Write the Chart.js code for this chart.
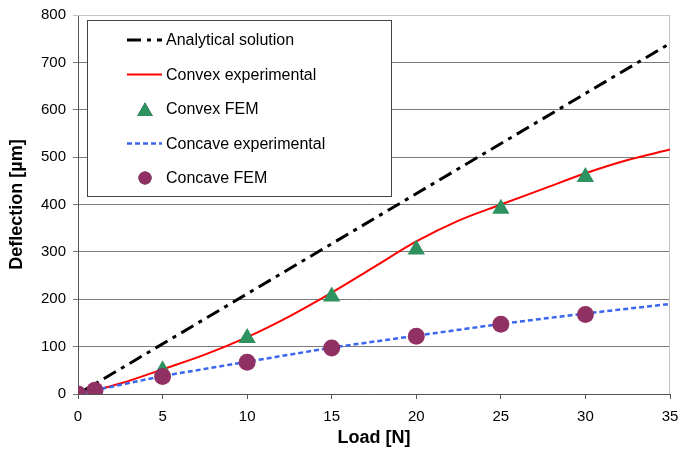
<!DOCTYPE html>
<html>
<head>
<meta charset="utf-8">
<script src="https://cdn.jsdelivr.net/npm/chart.js@4"></script>
<style>
  html, body { margin: 0; padding: 0; background: #fff; }
  #wrap { width: 680px; height: 452px; }
</style>
</head>
<body>
<div id="wrap"><canvas id="chart" width="680" height="452"></canvas></div>
<script>
// values (load in N, deflection in µm)
const analyticalX = [0, 35];
const analyticalY = [0, 740];

const convexExpX = [0, 1, 2.5, 5, 7.5, 10, 12.5, 15, 17.5, 20, 22.5, 25, 27.5, 30, 32.5, 35];
const convexExpY = [0, 8, 22, 52, 83, 120, 164, 214, 268, 322, 366, 400, 433, 466, 494, 516];

const convexFemX = [0, 1, 5, 10, 15, 20, 25, 30];
const convexFemY = [0, 3, 50, 118, 206, 305, 391, 458];

const concaveExpX = [0, 1, 5, 10, 15, 20, 25, 30, 35];
const concaveExpY = [0, 8, 38, 68, 98, 123, 148, 170, 190];

const concaveFemX = [0, 1, 5, 10, 15, 20, 25, 30];
const concaveFemY = [0, 8, 37, 67, 97, 122, 147, 168];

const xTicks = [0, 5, 10, 15, 20, 25, 30, 35];
const yTicks = [0, 100, 200, 300, 400, 500, 600, 700, 800];

const legendLabels = [
  "Analytical solution",
  "Convex experimental",
  "Convex FEM",
  "Concave experimental",
  "Concave FEM",
];

const pts = (xs, ys) => xs.map((x, i) => ({ x, y: ys[i] }));

const FONT = "'Liberation Sans', Arial, sans-serif";

// ── Legend box drawn inside the plot area ───────────────────
const boxLegend = {
  id: "boxLegend",
  afterDraw(chart) {
    const ctx = chart.ctx;
    const left = 87, top = 20, w = 304, h = 176;
    ctx.save();
    ctx.fillStyle = "#fff";
    ctx.fillRect(left, top, w, h);
    ctx.strokeStyle = "#444";
    ctx.lineWidth = 1;
    ctx.strokeRect(left + 0.5, top + 0.5, w, h);

    const rows = [40, 74.5, 109, 143.5, 178];
    chart.data.datasets.forEach((ds, i) => {
      const y = rows[i];
      if (ds.showLine) {
        ctx.beginPath();
        ctx.setLineDash(ds.borderDash || []);
        ctx.strokeStyle = ds.borderColor;
        ctx.lineWidth = ds.borderWidth;
        ctx.moveTo(127, y);
        ctx.lineTo(162, y);
        ctx.stroke();
        ctx.setLineDash([]);
      } else {
        Chart.helpers.drawPoint(ctx, {
          pointStyle: ds.pointStyle,
          radius: ds.legendRadius,
          borderWidth: 0,
          rotation: 0,
        }, 145, y + (ds.pointStyle === "triangle" ? 2.5 : 0));
        ctx.fillStyle = ds.backgroundColor;
        ctx.fill();
      }
      ctx.fillStyle = "#000";
      ctx.font = "16px " + FONT;
      ctx.textBaseline = "middle";
      ctx.textAlign = "left";
      ctx.fillText(legendLabels[i], 166, y + 1);
    });
    ctx.restore();
  },
};

// light frame on top and right of the plot
const frame = {
  id: "frame",
  beforeDatasetsDraw(chart) {
    const { ctx, chartArea: a } = chart;
    ctx.save();
    ctx.strokeStyle = "#c4c4c4";
    ctx.lineWidth = 1;
    ctx.beginPath();
    ctx.moveTo(a.left, a.top + 0.5);
    ctx.lineTo(a.right - 0.5, a.top + 0.5);
    ctx.lineTo(a.right - 0.5, a.bottom);
    ctx.stroke();
    ctx.restore();
  },
};

new Chart(document.getElementById("chart"), {
  type: "scatter",
  data: {
    datasets: [
      {
        label: legendLabels[0],
        data: pts(analyticalX, analyticalY),
        showLine: true,
        borderColor: "#000",
        borderWidth: 3,
        borderDash: [14, 6, 4, 6],
        pointRadius: 0,
        order: 4,
      },
      {
        label: legendLabels[1],
        data: pts(convexExpX, convexExpY),
        showLine: true,
        borderColor: "#ff0000",
        borderWidth: 2,
        cubicInterpolationMode: "monotone",
        pointRadius: 0,
        order: 3,
      },
      {
        label: legendLabels[2],
        data: pts(convexFemX, convexFemY),
        showLine: false,
        pointStyle: "triangle",
        pointRadius: 10,
        legendRadius: 9,
        backgroundColor: "#2e9160",
        borderWidth: 0,
        order: 1,
      },
      {
        label: legendLabels[3],
        data: pts(concaveExpX, concaveExpY),
        showLine: true,
        borderColor: "#3a66f0",
        borderWidth: 2.5,
        borderDash: [5, 3],
        pointRadius: 0,
        order: 2,
      },
      {
        label: legendLabels[4],
        data: pts(concaveFemX, concaveFemY),
        showLine: false,
        pointStyle: "circle",
        pointRadius: 8.5,
        legendRadius: 6.5,
        backgroundColor: "#913163",
        borderWidth: 0,
        order: 0,
      },
    ],
  },
  options: {
    responsive: false,
    animation: false,
    layout: { padding: { top: 15, right: 5, left: 0, bottom: 0 } },
    plugins: {
      legend: { display: false },
      tooltip: { enabled: false },
    },
    scales: {
      x: {
        type: "linear",
        min: 0,
        max: 35,
        afterFit: (s) => {
          s.height = 58;
          s.paddingLeft = 0;
          s.paddingRight = 0;
        },
        afterBuildTicks: (s) => { s.ticks = xTicks.map((v) => ({ value: v })); },
        ticks: {
          color: "#000",
          padding: 9,
          font: { family: FONT, size: 15 },
        },
        grid: {
          drawOnChartArea: false,
          drawTicks: true,
          tickLength: 5,
          color: "#555",
        },
        border: { color: "#555", width: 1 },
        title: {
          display: true,
          text: "Load [N]",
          color: "#000",
          font: { family: FONT, size: 18, weight: "bold" },
          padding: { top: 0, bottom: 3 },
        },
      },
      y: {
        min: 0,
        max: 800,
        afterFit: (s) => {
          s.width = 78;
          s.paddingTop = 0;
          s.paddingBottom = 0;
        },
        afterBuildTicks: (s) => { s.ticks = yTicks.map((v) => ({ value: v })); },
        ticks: {
          color: "#000",
          padding: 7,
          font: { family: FONT, size: 15 },
        },
        grid: {
          tickLength: 5,
          color: (c) => (c.tick && c.tick.value === 800 ? "#c4c4c4" : "#7a7a7a"),
        },
        border: { color: "#555", width: 1 },
        title: {
          display: true,
          text: "Deflection [µm]",
          color: "#000",
          font: { family: FONT, size: 18, weight: "bold" },
          padding: { top: 6, bottom: 0 },
        },
      },
    },
  },
  plugins: [frame, boxLegend],
});
</script>
</body>
</html>
